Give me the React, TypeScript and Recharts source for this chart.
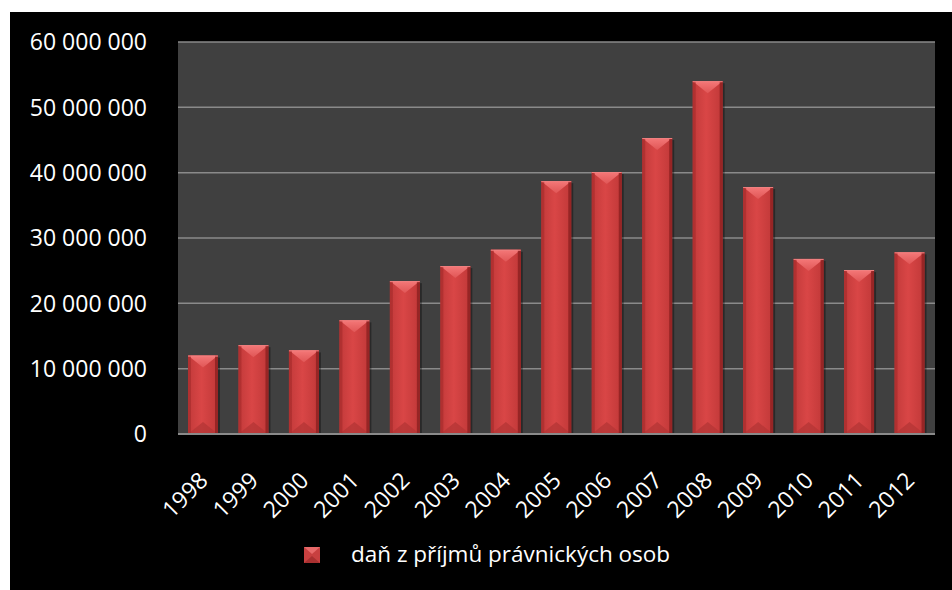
import React from "react";
import { BarChart, Bar, XAxis, YAxis, CartesianGrid, Legend } from "recharts";

// Corporate income tax revenue by year
const years = ["1998", "1999", "2000", "2001", "2002", "2003", "2004", "2005", "2006", "2007", "2008", "2009", "2010", "2011", "2012"];
const taxValues = [
  12000000, 13600000, 12800000, 17400000, 23400000, 25700000, 28200000, 38700000,
  40100000, 45300000, 54000000, 37800000, 26800000, 25100000, 27800000,
];
const yTicks = [0, 10000000, 20000000, 30000000, 40000000, 50000000, 60000000];
const seriesName = "daň z příjmů právnických osob";

const data = years.map((year, i) => ({ year, value: taxValues[i] }));

const FONT = "'Open Sans', 'Noto Sans', sans-serif";
const W = 942;
const H = 578;

const fmt = (v: number) => String(v).replace(/\B(?=(\d{3})+(?!\d))/g, " ");

// Bevelled red column
const BevelBar = (props: any) => {
  const { x, y, width, height } = props;
  if (!height || height <= 0) return null;
  const d = Math.min(12, height / 2);
  const side = 3;
  return (
    <g>
      <rect x={x + 2} y={y + 2} width={width} height={height - 2} fill="#000" opacity={0.35} />
      <rect x={x} y={y} width={width} height={height} fill="url(#barFace)" />
      <polygon
        points={`${x},${y} ${x + width},${y} ${x + width / 2},${y + d}`}
        fill="url(#barTop)"
      />
      <polygon
        points={`${x},${y + height} ${x + width},${y + height} ${x + width / 2},${y + height - d}`}
        fill="#b53636"
        opacity={0.8}
      />
      <rect x={x} y={y} width={side} height={height} fill="#a82c2c" opacity={0.7} />
      <rect x={x + width - side} y={y} width={side} height={height} fill="#8c2020" opacity={0.8} />
      <line x1={x} y1={y + 0.5} x2={x + width} y2={y + 0.5} stroke="#f08080" strokeWidth={1} />
    </g>
  );
};

const YTick = (props: any) => {
  const { x, y, payload } = props;
  return (
    <text x={x} y={y} dy="0.36em" textAnchor="end" fill="#ffffff" fontSize={23} fontFamily={FONT}>
      {fmt(payload.value)}
    </text>
  );
};

const XTick = (props: any) => {
  const { x, y, payload } = props;
  return (
    <g transform={`translate(${x + 6},${y + 40}) rotate(-45)`}>
      <text x={0} y={0} textAnchor="end" fill="#ffffff" fontSize={23} fontFamily={FONT}>
        {payload.value}
      </text>
    </g>
  );
};

const LegendContent = () => (
  <div style={{ position: "relative", height: 76, width: "100%" }}>
    <svg width={18} height={18} style={{ position: "absolute", left: 294, top: 33 }}>
      <rect x={0} y={0} width={16} height={16} fill="#c84040" />
      <polygon points="0,0 16,0 8,7" fill="#e86a6a" />
      <polygon points="0,16 16,16 8,9" fill="#a83030" />
    </svg>
    <span
      style={{
        position: "absolute",
        left: 341,
        top: 25,
        color: "#ffffff",
        fontFamily: FONT,
        fontSize: 22.5,
        lineHeight: "30px",
        whiteSpace: "nowrap",
      }}
    >
      {seriesName}
    </span>
  </div>
);

export default function App() {
  return (
    <div style={{ position: "absolute", left: 10, top: 12, width: W, height: H, background: "#000" }}>
      <BarChart width={W} height={H} data={data} margin={{ top: 30, right: 17, left: 0, bottom: 0 }}>
        <defs>
          <linearGradient id="barFace" x1="0" y1="0" x2="1" y2="0">
            <stop offset="0%" stopColor="#c23a3a" />
            <stop offset="45%" stopColor="#d94646" />
            <stop offset="100%" stopColor="#c03838" />
          </linearGradient>
          <linearGradient id="barTop" x1="0" y1="0" x2="0" y2="1">
            <stop offset="0%" stopColor="#f47878" />
            <stop offset="100%" stopColor="#e05656" />
          </linearGradient>
        </defs>
        <CartesianGrid
          vertical={false}
          horizontal={true}
          fill="#404040"
          stroke="#8a8a8a"
          strokeWidth={1.5}
        />
        <XAxis
          dataKey="year"
          height={80}
          interval={0}
          tickLine={false}
          axisLine={{ stroke: "#8a8a8a", strokeWidth: 2 }}
          tick={<XTick />}
        />
        <YAxis
          width={168}
          domain={[0, 60000000]}
          ticks={yTicks}
          interval={0}
          tickLine={false}
          axisLine={false}
          tickSize={0}
          tickMargin={31}
          tick={<YTick />}
        />
        <Legend verticalAlign="bottom" height={76} content={<LegendContent />} />
        <Bar dataKey="value" name={seriesName} barSize={30} shape={<BevelBar />} isAnimationActive={false} />
      </BarChart>
    </div>
  );
}
